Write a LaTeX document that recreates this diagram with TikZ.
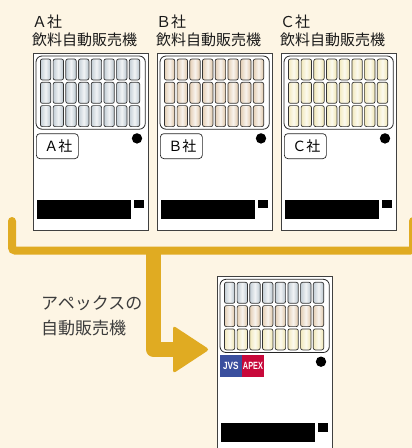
\documentclass[tikz,border=0pt]{standalone}
\usepackage{fontspec}
\setmainfont{Noto Sans CJK JP}
\newfontfamily\logofont{Liberation Sans}
\usetikzlibrary{calc}

\definecolor{paper}{HTML}{FDF5E4}
\definecolor{gold}{HTML}{E0AB22}
\definecolor{bottleA}{HTML}{B9C5CE}
\definecolor{bottleB}{HTML}{DFC6A8}
\definecolor{bottleC}{HTML}{EFE5B0}
\definecolor{jvsblue}{HTML}{3A4F9E}
\definecolor{apexred}{HTML}{C8083A}
\definecolor{caption}{HTML}{3C3C3C}

\tikzset{
  machine/.style={draw=black!75, line width=0.9pt, fill=white, anchor=north west,
    minimum width=115pt, minimum height=177pt, inner sep=0pt},
  panel/.style={draw=black!85, line width=0.8pt, fill=white, rounded corners=6pt},
  bottle/.style={draw=black!80, line width=0.7pt, rounded corners=2pt},
  tag/.style={draw=black!85, line width=0.7pt, rounded corners=3.5pt, fill=white,
    anchor=north west, minimum width=42pt, minimum height=25pt, inner sep=0pt,
    font=\fontsize{14}{14}\selectfont},
  title/.style={anchor=base west, inner sep=0pt, text=black!90,
    font=\fontsize{15}{15}\selectfont},
  bracket/.style={draw=gold, line width=8pt, line cap=round, rounded corners=3pt},
  feed/.style={draw=gold, line width=15pt, line join=round},
  logotext/.style={text=white, inner sep=0pt, font=\logofont\bfseries\fontsize{10.5}{10.5}\selectfont},
}

% one vending machine: x, y of top-left corner, name, three row colours, label code
\newcommand{\vendmachine}[7]{%
  \begin{scope}[shift={(#1,#2)}]
    \node[machine] (#3) at (0,0) {};
    \draw[panel] (3,3.3) rectangle (112.3,76.5);
    \foreach \r/\c in {0/#4,1/#5,2/#6}{
      \foreach \i in {0,...,7}{
        \draw[bottle, left color=\c!85, right color=\c, middle color=\c!20]
          (7.4+12.7*\i, 6.3+23.3*\r) rectangle ++(10.4,21);
      }
    }
    #7
    \fill (104,85.7) circle (5.2);
    \fill (4.3,147.3) rectangle (97.7,166.3);
    \fill (101,147.3) rectangle (111,155.6);
  \end{scope}%
}

\begin{document}
\begin{tikzpicture}[x=1pt,y=-1pt]
  \useasboundingbox (0,0) rectangle (412,448);
  \fill[paper] (0,0) rectangle (412,448);

  % the three company machines
  \node[title] (ta1) at (32,27) {Ａ社};
  \node[title] (ta2) at (32,45) {飲料自動販売機};
  \vendmachine{33}{52.7}{ma}{bottleA}{bottleA}{bottleA}{\node[tag] (la) at (3,80.6) {\hspace{2pt}Ａ社};}

  \node[title] (tb1) at (156,27) {Ｂ社};
  \node[title] (tb2) at (156,45) {飲料自動販売機};
  \vendmachine{157}{52.7}{mb}{bottleB}{bottleB}{bottleB}{\node[tag] (lb) at (3,80.6) {\hspace{2pt}Ｂ社};}

  \node[title] (tc1) at (280,27) {Ｃ社};
  \node[title] (tc2) at (280,45) {飲料自動販売機};
  \vendmachine{281}{52.7}{mc}{bottleC}{bottleC}{bottleC}{\node[tag] (lc) at (3,80.6) {\hspace{2pt}Ｃ社};}

  % the combined machine
  \vendmachine{217}{276}{mx}{bottleA}{bottleB}{bottleC}{%
    \fill[jvsblue] (3,78.5) rectangle (24.8,100.7);
    \fill[apexred] (24.8,78.5) rectangle (47.3,100.7);
    \node[logotext] (jvs) at (13.9,89.6) {\scalebox{0.78}[1]{JVS}};
    \node[logotext] (apex) at (36,89.6) {\scalebox{0.7}[1]{APEX}};
  }

  % bracket gathering the three machines and the arrow to the combined one
  \coordinate (bl) at (12,221);
  \coordinate (br) at (413,221);
  \coordinate (split) at (153.5,250.5);
  \coordinate (bend) at (175,349.5);
  \coordinate (tip) at (209.5,349.5);
  \draw[bracket] (bl) -- (bl |- split) -- (br |- split) -- (br);
  \draw[feed] (split) |- (bend);
  \fill[gold, rounded corners=3pt] (173,325.5) -- (tip) -- (173,373.5) -- cycle;

  \node[anchor=base west, inner sep=0pt, text=caption, align=left,
    font=\fontsize{17}{24.5}\selectfont] (cap) at (41,334) {アペックスの\\自動販売機};
\end{tikzpicture}
\end{document}
